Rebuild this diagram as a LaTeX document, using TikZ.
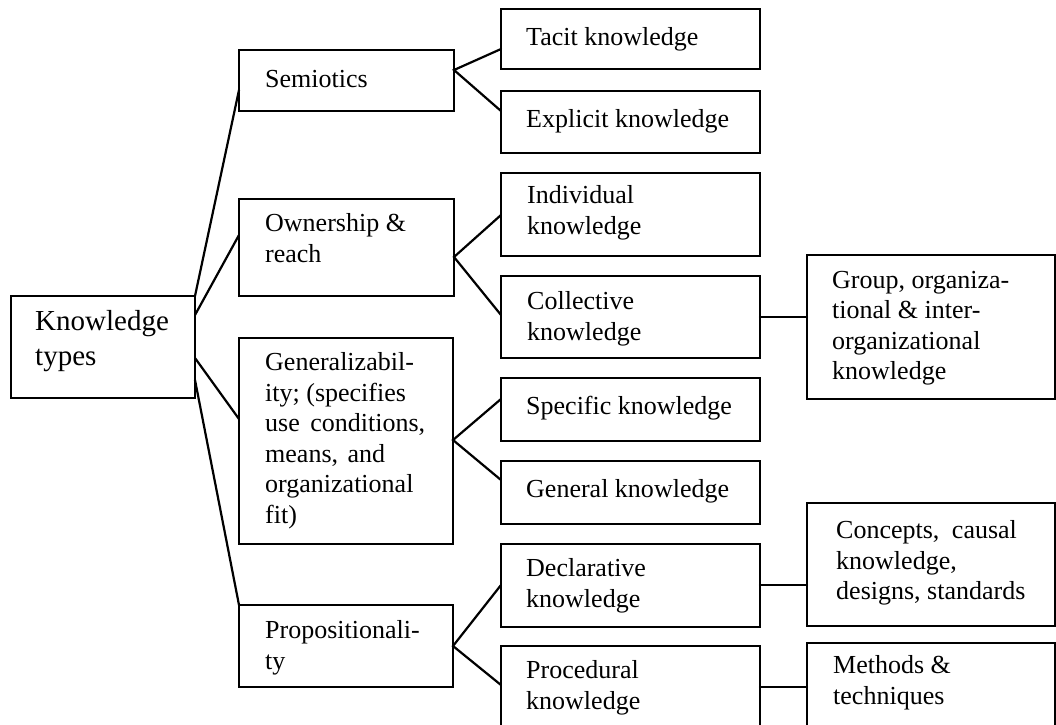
\documentclass[tikz,border=0pt]{standalone}
\usepackage{fontspec}
\setmainfont{Liberation Serif}
\usetikzlibrary{calc}
\begin{document}
\begin{tikzpicture}[x=1pt,y=-1pt,
  box/.style={draw, line width=2.2pt, anchor=north west, inner sep=0pt, outer sep=0pt},
  lbl/.style={anchor=north west, align=left, inner sep=0pt, font=\fontsize{26}{30.5}\selectfont, execute at begin node={\strut}, yshift=21.35pt},
  big/.style={anchor=north west, align=left, inner sep=0pt, font=\fontsize{29}{35}\selectfont, execute at begin node={\strut}, yshift=24.5pt},
  con/.style={line width=2.2pt, line cap=round}]
\useasboundingbox (0,0) rectangle (1056,724);
\clip (0,0) rectangle (1056,724);
\fill[white] (0,0) rectangle (1056,724);
% boxes
\node[box, minimum width=184pt, minimum height=102pt] (kt) at (11,296) {};
\node[box, minimum width=215pt, minimum height=61pt] (sem) at (239,50) {};
\node[box, minimum width=215pt, minimum height=97pt] (own) at (239,199) {};
\node[box, minimum width=214pt, minimum height=206pt] (gen) at (239,338) {};
\node[box, minimum width=214pt, minimum height=82pt] (prop) at (239,605) {};
\node[box, minimum width=259pt, minimum height=60pt] (tac) at (501,9) {};
\node[box, minimum width=259pt, minimum height=62pt] (exp) at (501,91) {};
\node[box, minimum width=259pt, minimum height=83pt] (ind) at (501,173) {};
\node[box, minimum width=259pt, minimum height=82pt] (col) at (501,276) {};
\node[box, minimum width=259pt, minimum height=63pt] (spe) at (501,378) {};
\node[box, minimum width=259pt, minimum height=63pt] (gnk) at (501,461) {};
\node[box, minimum width=259pt, minimum height=83pt] (dec) at (501,544) {};
\node[box, minimum width=259pt, minimum height=95pt] (pro) at (501,646) {};
\node[box, minimum width=248pt, minimum height=144pt] (grp) at (807,255) {};
\node[box, minimum width=248pt, minimum height=123pt] (cpt) at (807,503) {};
\node[box, minimum width=248pt, minimum height=95pt] (met) at (807,643) {};
% labels (offsets = first baseline below box top)
\node[big] (tkt) at ($(kt.north west)+(24,39)$) {Knowledge\\types};
\node[lbl] (tsem) at ($(sem.north west)+(26,37)$) {Semiotics};
\node[lbl] (town) at ($(own.north west)+(26,36)$) {Ownership \&\\reach};
\node[lbl] (tgen) at ($(gen.north west)+(26,36)$) {Generalizabil-\\ity; (specifies\\use\hspace{4pt} conditions,\\means,\hspace{3pt} and\\organizational\\fit)};
\node[lbl] (tprop) at ($(prop.north west)+(26,37)$) {Propositionali-\\ty};
\node[lbl] (ttac) at ($(tac.north west)+(25,36)$) {Tacit knowledge};
\node[lbl] (texp) at ($(exp.north west)+(25,36)$) {Explicit knowledge};
\node[lbl] (tind) at ($(ind.north west)+(26,34)$) {Individual\\knowledge};
\node[lbl] (tcol) at ($(col.north west)+(26,37)$) {Collective\\knowledge};
\node[lbl] (tspe) at ($(spe.north west)+(25,36)$) {Specific knowledge};
\node[lbl] (tgnk) at ($(gnk.north west)+(25,36)$) {General knowledge};
\node[lbl] (tdec) at ($(dec.north west)+(25,36)$) {Declarative\\knowledge};
\node[lbl] (tpro) at ($(pro.north west)+(25,36)$) {Procedural\\knowledge};
\node[lbl] (tgrp) at ($(grp.north west)+(25,37)$) {Group, organiza-\\tional \& inter-\\organizational\\knowledge};
\node[lbl] (tcpt) at ($(cpt.north west)+(29,39)$) {Concepts,\hspace{6pt} causal\\knowledge,\\designs, standards};
\node[lbl] (tmet) at ($(met.north west)+(26,34)$) {Methods \&\\techniques};
% connectors from root
\draw[con] (kt.north east) -- ($(sem.north west)+(0,40)$);
\draw[con] ($(kt.north east)+(0,19)$) -- ($(own.north west)+(0,36)$);
\draw[con] ($(kt.north east)+(0,62)$) -- ($(gen.north west)+(0,81)$);
\draw[con] ($(kt.north east)+(0,84)$) -- (prop.north west);
% second level
\draw[con] ($(tac.north west)+(0,40)$) -- ($(sem.north east)+(0,20)$) -- ($(exp.north west)+(0,20)$);
\draw[con] ($(ind.north west)+(0,42)$) -- ($(own.north east)+(0,58)$) -- ($(col.north west)+(0,39)$);
\draw[con] ($(spe.north west)+(0,21)$) -- ($(gen.north east)+(0,102)$) -- ($(gnk.north west)+(0,19)$);
\draw[con] ($(dec.north west)+(0,41)$) -- ($(prop.north east)+(0,41)$) -- ($(pro.north west)+(0,39)$);
% third level
\draw[con] ($(col.north east)+(0,41)$) -- ($(grp.north west)+(0,62)$);
\draw[con] ($(dec.north east)+(0,41)$) -- ($(cpt.north west)+(0,82)$);
\draw[con] ($(pro.north east)+(0,41)$) -- ($(met.north west)+(0,44)$);
\end{tikzpicture}
\end{document}
